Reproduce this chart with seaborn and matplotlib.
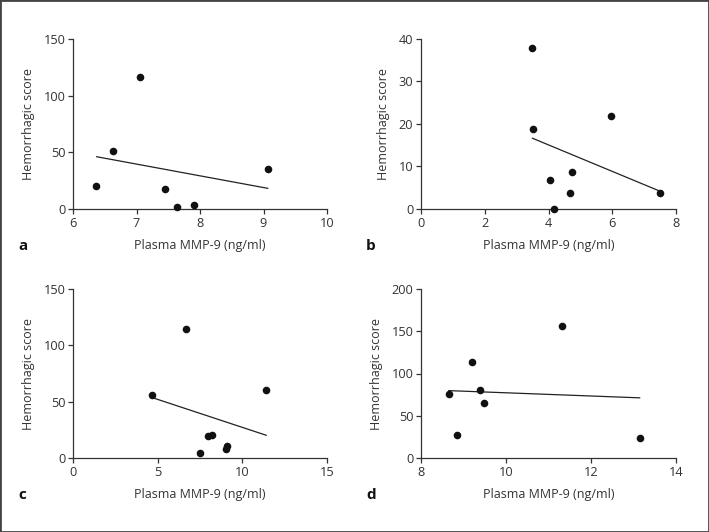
import matplotlib
matplotlib.use("Agg")
import numpy as np
import pandas as pd
import seaborn as sns
import matplotlib.pyplot as plt
from matplotlib.patches import Rectangle

# values
mmp_a = [6.37, 6.63, 7.05, 7.45, 7.64, 7.91, 9.07]
score_a = [20, 51, 116.5, 17.4, 2, 3.2, 35]

mmp_b = [3.49, 3.52, 4.04, 4.18, 4.67, 4.75, 5.96, 7.51]
score_b = [37.8, 18.8, 6.8, 0, 3.8, 8.8, 21.8, 3.8]

mmp_c = [4.68, 6.68, 7.51, 7.98, 8.22, 9.06, 9.12, 11.42]
score_c = [56.3, 114.4, 4.4, 19.5, 20, 8.3, 10.6, 60.1]

mmp_d = [8.65, 8.84, 9.20, 9.38, 9.48, 11.31, 13.15]
score_d = [75.2, 26.8, 113.4, 80.3, 65.4, 155.9, 23.2]

xticks_a = [6, 7, 8, 9, 10]
yticks_a = [0, 50, 100, 150]
xticks_b = [0, 2, 4, 6, 8]
yticks_b = [0, 10, 20, 30, 40]
xticks_c = [0, 5, 10, 15]
yticks_c = [0, 50, 100, 150]
xticks_d = [8, 10, 12, 14]
yticks_d = [0, 50, 100, 150, 200]

sns.set_style("ticks")
plt.rcParams['font.family'] = ['Open Sans', 'DejaVu Sans']

W, H = 709, 532
fig = plt.figure(figsize=(W / 100, H / 100), dpi=100)
fig.patch.set_facecolor("white")

ink = "#333333"

panels = [
    ("a", mmp_a, score_a, xticks_a, yticks_a, (73, 39, 327, 209)),
    ("b", mmp_b, score_b, xticks_b, yticks_b, (421, 39, 676, 209)),
    ("c", mmp_c, score_c, xticks_c, yticks_c, (73, 289, 327, 458)),
    ("d", mmp_d, score_d, xticks_d, yticks_d, (421, 289, 676, 458)),
]

for letter, xs, ys, xt, yt, box in panels:
    l, t, r, b = box
    ax = fig.add_axes([l / W, 1 - b / H, (r - l) / W, (b - t) / H])
    df = pd.DataFrame({"mmp": xs, "score": ys})
    sns.regplot(data=df, x="mmp", y="score", ax=ax, ci=None, truncate=True,
                scatter_kws={"s": 30, "color": "#111111", "linewidths": 0,
                             "alpha": 1, "clip_on": False, "zorder": 3},
                line_kws={"color": "#222222", "lw": 0.9})
    ax.set_xlim(xt[0], xt[-1])
    ax.set_ylim(yt[0], yt[-1])
    ax.set_xticks(xt)
    ax.set_yticks(yt)
    sns.despine(ax=ax)
    for s in ["left", "bottom"]:
        ax.spines[s].set_color(ink)
        ax.spines[s].set_linewidth(0.9)
    ax.tick_params(colors=ink, labelsize=9.2, length=3.5, width=0.9, pad=2)
    ax.set_xlabel("Plasma MMP-9 (ng/ml)", fontsize=9, color=ink, labelpad=7)
    ax.set_ylabel("Hemorrhagic score", fontsize=9, color=ink, labelpad=6)
    fig.text((l - 55) / W, 1 - (b + 37) / H, letter, fontsize=11,
             fontweight="bold", color="#111111", ha="left", va="center")

fig.add_artist(Rectangle((0, 0), 1, 1, transform=fig.transFigure, fill=False,
                         edgecolor="#444444", lw=2))

fig.savefig("out.png", dpi=100)
